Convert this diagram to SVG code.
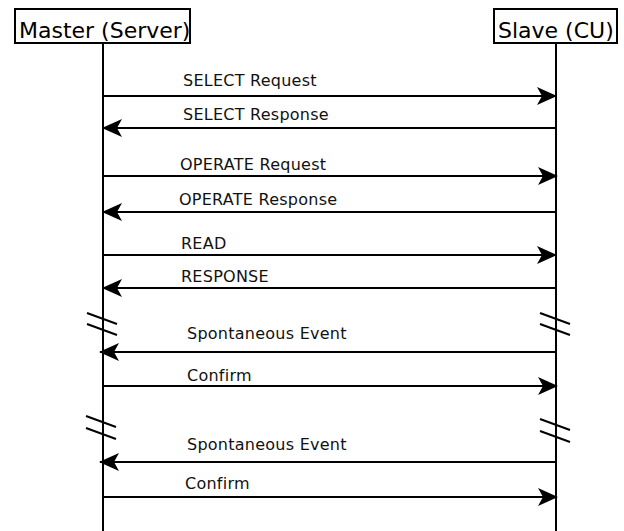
<svg xmlns="http://www.w3.org/2000/svg" width="624" height="531" viewBox="0 0 624 531">
<style>
.box{fill:#fff;stroke:#000;stroke-width:2}
.title{font-family:"DejaVu Sans",Verdana,sans-serif;font-size:22px;fill:#000}
.life{stroke:#000;stroke-width:2;fill:none}
.msg{stroke:#000;stroke-width:2;fill:none;marker-end:url(#ah)}
.lbl{font-family:"DejaVu Sans",Verdana,sans-serif;font-size:16px;fill:#111;letter-spacing:0.25px}
.brk{stroke:#000;stroke-width:2;fill:none}
</style>
<defs>
<marker id="ah" viewBox="0 0 20 18" refX="19" refY="9" markerWidth="20" markerHeight="18" markerUnits="userSpaceOnUse" orient="auto">
<path d="M0,0 L20,9 L0,18 L5,9 Z" fill="#000"/>
</marker>
</defs>
<rect width="624" height="531" fill="#fff"/>
<g id="master">
<line class="life" x1="103" y1="43" x2="103" y2="531"/>
<rect class="box" x="15" y="9" width="175" height="34"/>
<text class="title" x="19" y="38">Master (Server)</text>
</g>
<g id="slave">
<line class="life" x1="556" y1="43" x2="556" y2="531"/>
<rect class="box" x="494" y="9" width="123" height="34"/>
<text class="title" x="498" y="38">Slave (CU)</text>
</g>
<g id="breaks">
<path class="brk" d="M87,313 L117,324 M87,324 L117,335"/>
<path class="brk" d="M540,313 L570,324 M540,324 L570,335"/>
<path class="brk" d="M86,416 L116,427 M86,428 L116,439"/>
<path class="brk" d="M540,419 L570,430 M540,431 L570,442"/>
</g>
<g id="connectors">
<line class="msg" x1="103" y1="96" x2="556" y2="96"/>
<line class="msg" x1="556" y1="128" x2="103" y2="128"/>
<line class="msg" x1="103" y1="176" x2="557" y2="176"/>
<line class="msg" x1="556" y1="212" x2="103" y2="212"/>
<line class="msg" x1="103" y1="255" x2="556" y2="255"/>
<line class="msg" x1="556" y1="288" x2="103" y2="288"/>
<line class="msg" x1="556" y1="352" x2="100" y2="352"/>
<line class="msg" x1="103" y1="386" x2="557" y2="386"/>
<line class="msg" x1="556" y1="462" x2="100" y2="462"/>
<line class="msg" x1="103" y1="497" x2="557" y2="497"/>
</g>
<g id="labels">
<text class="lbl" x="183" y="86">SELECT Request</text>
<text class="lbl" x="183" y="120">SELECT Response</text>
<text class="lbl" x="180" y="170">OPERATE Request</text>
<text class="lbl" x="179" y="205">OPERATE Response</text>
<text class="lbl" x="181" y="249">READ</text>
<text class="lbl" x="181" y="282">RESPONSE</text>
<text class="lbl" x="187" y="339">Spontaneous Event</text>
<text class="lbl" x="187" y="381">Confirm</text>
<text class="lbl" x="187" y="450">Spontaneous Event</text>
<text class="lbl" x="185" y="489">Confirm</text>
</g>
</svg>
